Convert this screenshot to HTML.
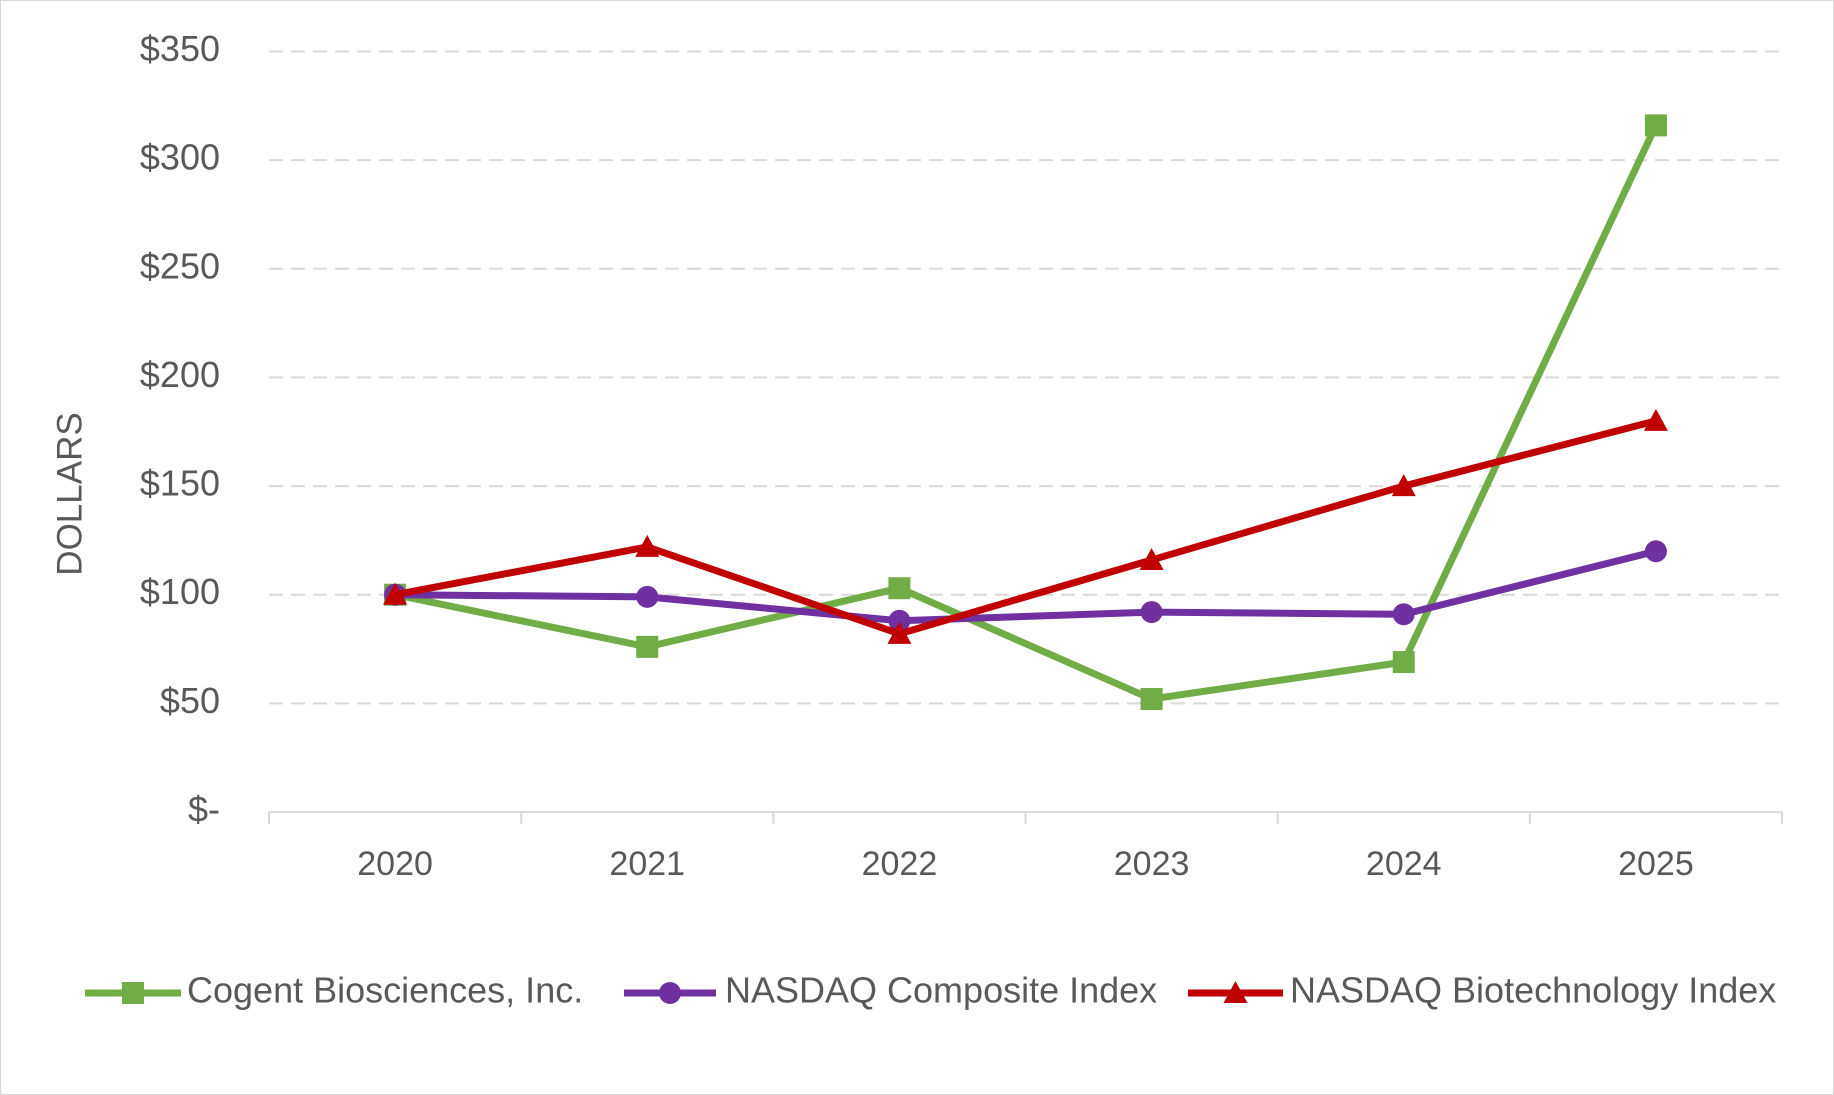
<!DOCTYPE html>
<html><head><meta charset="utf-8"><style>
body{margin:0;background:#fff}
svg{display:block;font-family:"Liberation Sans",sans-serif}
</style></head><body>
<svg id="chart" width="1834" height="1095">
<rect x="0.5" y="0.5" width="1833" height="1094" fill="#fff" stroke="#d9d9d9"/>
<g id="grid"></g><g id="axes"></g><g id="series"></g><g id="legend"></g>
<text x="72" y="494" transform="rotate(-90 72 494)" text-anchor="middle" dominant-baseline="middle" font-size="35" fill="#595959">DOLLARS</text>
</svg>
<script>
const categories=["2020","2021","2022","2023","2024","2025"];
const cogent=[100,76,103,52,69,316];
const nasdaqComp=[100,99,88,92,91,120];
const nasdaqBio=[100,122,82,116,150,180];
const yTicks=[0,50,100,150,200,250,300,350];
const yTickLabels=["$-","$50","$100","$150","$200","$250","$300","$350"];
const NS="http://www.w3.org/2000/svg";
const L=269,R=1782,T=51.5,B=812,yMax=350;
const step=(R-L)/categories.length;
const x=i=>L+step*(i+0.5);
const y=v=>B-(v/yMax)*(B-T);
function mk(t,a,p){const e=document.createElementNS(NS,t);for(const k in a)e.setAttribute(k,a[k]);p.appendChild(e);return e;}
const grid=document.getElementById('grid'),axes=document.getElementById('axes'),series=document.getElementById('series'),legend=document.getElementById('legend');
yTicks.forEach((v,i)=>{
 if(v>0){const g=mk('line',{x1:L,x2:R,y1:y(v),y2:y(v),stroke:'#d9d9d9','stroke-width':2,'stroke-dasharray':'14 8'},grid);
 
 }
 const t=mk('text',{x:220,y:y(v),'text-anchor':'end','dominant-baseline':'middle','font-size':36,fill:'#595959'},axes);
 t.textContent=yTickLabels[i];
 
 
});
const ax=mk('line',{x1:L,x2:R,y1:B,y2:B,stroke:'#d9d9d9','stroke-width':2},axes);


for(let i=0;i<=categories.length;i++){const tk=mk('line',{x1:L+step*i,x2:L+step*i,y1:B,y2:B+12,stroke:'#d9d9d9','stroke-width':2},axes);
 
 }
categories.forEach((c,i)=>{const t=mk('text',{x:x(i),y:866,'text-anchor':'middle','dominant-baseline':'middle','font-size':34,fill:'#595959'},axes);
 t.textContent=c;
 
 });
function marker(type,cx,cy,color,p){
 if(type==='sq')return mk('rect',{x:cx-11,y:cy-11,width:22,height:22,fill:color},p);
 if(type==='ci')return mk('circle',{cx:cx,cy:cy,r:11,fill:color},p);
 return mk('polygon',{points:`${cx},${cy-12} ${cx+12},${cy+10} ${cx-12},${cy+10}`,fill:color},p);
}
const defs=[[cogent,'#70ad47','sq','cogent-biosciences','Cogent Biosciences, Inc.',85,181,187],
[nasdaqComp,'#7030a0','ci','nasdaq-composite','NASDAQ Composite Index',624,716,725],
[nasdaqBio,'#c00000','tr','nasdaq-biotechnology','NASDAQ Biotechnology Index',1188,1283,1290]];
defs.forEach(([d,col,m,name,label,l1,l2,tx])=>{
 const g=mk('g',{},series);
 
 
 const pl=mk('polyline',{points:d.map((v,i)=>x(i)+','+y(v)).join(' '),fill:'none',stroke:col,'stroke-width':7,'stroke-linejoin':'round'},g);
 
 
 d.forEach((v,i)=>{const mm=marker(m,x(i),y(v),col,g);
  
  });
 const lg=mk('g',{},legend);
 
 
 mk('line',{x1:l1,x2:l2,y1:993,y2:993,stroke:col,'stroke-width':7},lg);
 marker(m,(l1+l2)/2,993,col,lg);
 const t=mk('text',{x:tx,y:993,'dominant-baseline':'middle','font-size':36,fill:'#595959'},lg);
 t.textContent=label;
});
</script>
</body></html>
